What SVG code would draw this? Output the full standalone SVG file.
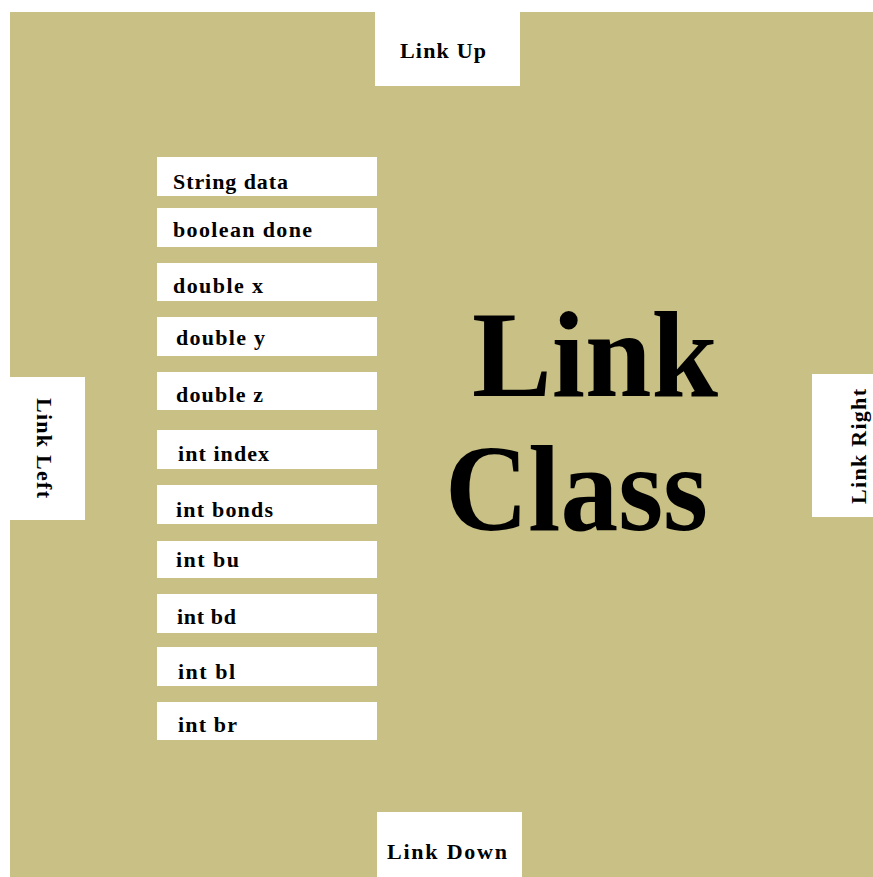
<svg xmlns="http://www.w3.org/2000/svg" width="873" height="877" viewBox="0 0 873 877">
<style>
.bg{fill:#C9C085}
.box{fill:#FFFFFF}
.t{font-family:"Liberation Serif","Times New Roman",serif;font-weight:bold;fill:#000000}
.f{font-size:22px}
.l{font-size:22px}
.big{font-size:122px}
</style>
<rect width="873" height="877" fill="#FFFFFF"/>
<rect class="bg" x="10" y="12" width="863" height="865"/>
<g id="title">
<text class="t big" x="472" y="396" textLength="246" lengthAdjust="spacingAndGlyphs">Link</text>
<text class="t big" x="445" y="530" textLength="263" lengthAdjust="spacingAndGlyphs">Class</text>
</g>
<g id="link-up">
<rect class="box" x="375" y="12" width="145" height="74"/>
<text class="t l" x="400" y="58" textLength="86" lengthAdjust="spacing">Link Up</text>
</g>
<g id="link-down">
<rect class="box" x="377" y="812" width="145" height="65"/>
<text class="t l" x="387" y="859" textLength="120" lengthAdjust="spacing">Link Down</text>
</g>
<g id="link-left">
<rect class="box" x="10" y="377" width="75" height="143"/>
<text class="t l" transform="translate(37,448) rotate(90)" x="-50" y="0" textLength="100" lengthAdjust="spacing">Link Left</text>
</g>
<g id="link-right">
<rect class="box" x="812" y="374" width="61" height="143"/>
<text class="t l" transform="translate(866,447) rotate(-90)" x="-57" y="0" textLength="115" lengthAdjust="spacing">Link Right</text>
</g>
<g id="field-string-data">
<rect class="box" x="157" y="157" width="220" height="39"/>
<text class="t f" x="173" y="189" textLength="115" lengthAdjust="spacing">String data</text>
</g>
<g id="field-boolean-done">
<rect class="box" x="157" y="208" width="220" height="39"/>
<text class="t f" x="173" y="237" textLength="139" lengthAdjust="spacing">boolean done</text>
</g>
<g id="field-double-x">
<rect class="box" x="157" y="263" width="220" height="38"/>
<text class="t f" x="173" y="293" textLength="90" lengthAdjust="spacing">double x</text>
</g>
<g id="field-double-y">
<rect class="box" x="157" y="317" width="220" height="39"/>
<text class="t f" x="176" y="345" textLength="89" lengthAdjust="spacing">double y</text>
</g>
<g id="field-double-z">
<rect class="box" x="157" y="372" width="220" height="38"/>
<text class="t f" x="176" y="402" textLength="87" lengthAdjust="spacing">double z</text>
</g>
<g id="field-int-index">
<rect class="box" x="157" y="430" width="220" height="39"/>
<text class="t f" x="178" y="461" textLength="91" lengthAdjust="spacing">int index</text>
</g>
<g id="field-int-bonds">
<rect class="box" x="157" y="485" width="220" height="39"/>
<text class="t f" x="176" y="517" textLength="97" lengthAdjust="spacing">int bonds</text>
</g>
<g id="field-int-bu">
<rect class="box" x="157" y="541" width="220" height="37"/>
<text class="t f" x="176" y="567" textLength="63" lengthAdjust="spacing">int bu</text>
</g>
<g id="field-int-bd">
<rect class="box" x="157" y="594" width="220" height="39"/>
<text class="t f" x="177" y="624" textLength="59" lengthAdjust="spacing">int bd</text>
</g>
<g id="field-int-bl">
<rect class="box" x="157" y="647" width="220" height="39"/>
<text class="t f" x="178" y="679" textLength="57" lengthAdjust="spacing">int bl</text>
</g>
<g id="field-int-br">
<rect class="box" x="157" y="702" width="220" height="38"/>
<text class="t f" x="178" y="732" textLength="59" lengthAdjust="spacing">int br</text>
</g>
<g id="connectors"></g>
</svg>
